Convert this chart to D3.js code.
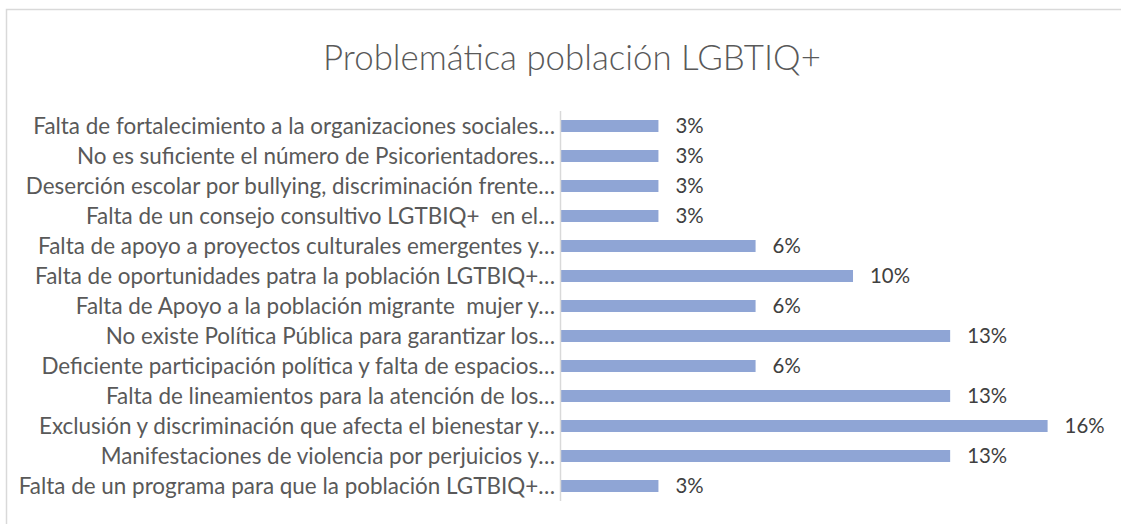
<!DOCTYPE html>
<html>
<head>
<meta charset="utf-8">
<script src="https://cdn.jsdelivr.net/npm/d3@7"></script>
<style>
  body { margin: 0; background: #fff; }
  svg { display: block; font-family: Lato, "Open Sans", sans-serif; }
  .cat { white-space: pre; }
</style>
</head>
<body>
<svg id="chart" width="1121" height="524"></svg>
<script>
// data (share of answers)
var title = "Problemática población LGBTIQ+";

var categories = [
    "Falta de fortalecimiento a la organizaciones sociales…",
    "No es suficiente el número de Psicorientadores…",
    "Deserción escolar por bullying, discriminación frente…",
    "Falta de un consejo consultivo LGTBIQ+  en el…",
    "Falta de apoyo a proyectos culturales emergentes y…",
    "Falta de oportunidades patra la población LGTBIQ+…",
    "Falta de Apoyo a la población migrante  mujer y…",
    "No existe Política Pública para garantizar los…",
    "Deficiente participación política y falta de espacios…",
    "Falta de lineamientos para la atención de los…",
    "Exclusión y discriminación que afecta el bienestar y…",
    "Manifestaciones de violencia por perjuicios y…",
    "Falta de un programa para que la población LGTBIQ+…"
];

var values = [0.0323, 0.0323, 0.0323, 0.0323, 0.0645, 0.0968, 0.0645,
              0.129, 0.0645, 0.129, 0.1613, 0.129, 0.0323];

var svg = d3.select("#chart");

// chart frame (only top and left edges fall inside the picture)
svg.append("rect")
    .attr("x", 6.5)
    .attr("y", 9.5)
    .attr("width", 1300)
    .attr("height", 700)
    .attr("fill", "none")
    .attr("stroke", "#d9d9d9")
    .attr("stroke-width", 1.5);

var plotLeft = 561, plotTop = 111, plotBottom = 501;

var x = d3.scaleLinear().domain([0, 0.18]).range([plotLeft, plotLeft + 543]);
var y = d3.scaleBand().domain(categories).range([plotTop, plotBottom]).paddingInner(0.6).paddingOuter(0.3);

var fmt = d3.format(".0%");

svg.append("text")
    .attr("class", "title")
    .attr("x", 572)
    .attr("y", 70)
    .attr("text-anchor", "middle")
    .attr("fill", "#595959")
    .attr("font-weight", 300)
    .attr("font-size", 28)
    .text(title);

svg.selectAll(".bar")
    .data(values)
    .enter().append("rect")
    .attr("class", "bar")
    .attr("x", x(0))
    .attr("y", (d, i) => y(categories[i]))
    .attr("width", d => x(d) - x(0))
    .attr("height", y.bandwidth())
    .attr("fill", "#8fa5d5");

// vertical category axis line
svg.append("line")
    .attr("x1", plotLeft - 0.5)
    .attr("x2", plotLeft - 0.5)
    .attr("y1", plotTop)
    .attr("y2", plotBottom)
    .attr("stroke", "#d9d9d9")
    .attr("stroke-width", 1.5);

var cats = svg.selectAll(".cat")
    .data(categories)
    .enter().append("text")
    .attr("class", "cat")
    .attr("x", 555)
    .attr("y", d => y(d) + y.bandwidth() / 2)
    .attr("dy", "0.35em")
    .attr("text-anchor", "end")
    .attr("fill", "#595959")
    .attr("font-size", 16)
    .text(d => d);

var vals = svg.selectAll(".val")
    .data(values)
    .enter().append("text")
    .attr("class", "val")
    .attr("x", d => x(d) + 17)
    .attr("y", (d, i) => y(categories[i]) + y.bandwidth() / 2)
    .attr("dy", "0.35em")
    .attr("fill", "#404040")
    .attr("font-size", 16)
    .text(d => fmt(d));

// fit fonts to the widths seen in the picture
var w0 = cats.nodes()[0].getComputedTextLength();
cats.attr("font-size", 16 * 522 / w0);
var maxI = values.indexOf(d3.max(values));
var wv = vals.nodes()[maxI].getComputedTextLength();
vals.attr("font-size", 16 * 40 / wv);
var tnode = svg.select(".title").node();
svg.select(".title").attr("font-size", 28 * 498 / tnode.getComputedTextLength());
</script>
</body>
</html>
